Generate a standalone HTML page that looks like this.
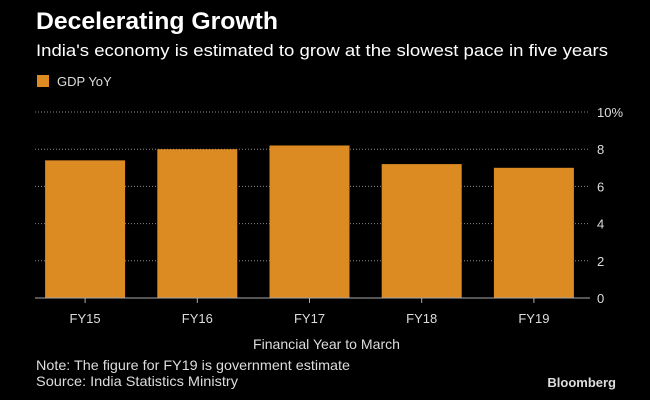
<!DOCTYPE html>
<html><head><meta charset="utf-8"><style>
body{margin:0;background:#000;width:650px;height:400px;overflow:hidden;font-family:"Liberation Sans",sans-serif;color:#fff}
</style></head><body>
<svg width="650" height="400" style="display:block">
<text x="36" y="29" font-size="24" font-weight="bold" fill="#fff" textLength="242" lengthAdjust="spacingAndGlyphs">Decelerating Growth</text>
<text x="36" y="56" font-size="17" fill="#fff" textLength="572" lengthAdjust="spacingAndGlyphs">India's economy is estimated to grow at the slowest pace in five years</text>
<rect x="37" y="75" width="12" height="12" fill="#dc8a22"/>
<text x="57" y="86" font-size="13" fill="#ddd">GDP YoY</text>
<g id="grid"></g><g id="bars"></g><g id="xaxis"></g>
<text x="253" y="349" font-size="14" fill="#ddd" textLength="147" lengthAdjust="spacingAndGlyphs">Financial Year to March</text>
<text x="36" y="370" font-size="14" fill="#ddd" textLength="314" lengthAdjust="spacingAndGlyphs">Note: The figure for FY19 is government estimate</text>
<text x="36" y="386" font-size="14" fill="#ddd" textLength="202" lengthAdjust="spacingAndGlyphs">Source: India Statistics Ministry</text>
<text x="616" y="387" font-size="13" font-weight="bold" fill="#ddd" text-anchor="end">Bloomberg</text>
</svg>
<script>
const categories=["FY15","FY16","FY17","FY18","FY19"];
const values=[7.4,8.0,8.2,7.2,7.0];
const ticks=[0,2,4,6,8,10];
const tickLabels=["0","2","4","6","8","10%"];
const NS="http://www.w3.org/2000/svg";
const x0=29,x1=590,gx0=35,y0=298,yTop=112,ymax=10;
const y=v=>y0-(y0-yTop)*v/ymax;
const step=(x1-x0)/categories.length;
const xc=i=>x0+step*(i+0.5);
function mk(t,a,p){const e=document.createElementNS(NS,t);for(const k in a)e.setAttribute(k,a[k]);p.appendChild(e);return e;}
const g=document.getElementById('grid'),b=document.getElementById('bars'),xa=document.getElementById('xaxis');
ticks.forEach((t,i)=>{
 if(t>0){const l=mk('line',{x1:gx0,x2:x1,y1:y(t),y2:y(t),stroke:'#888','stroke-width':1,'stroke-dasharray':'1,2'},g);
 
 }
 const tx=mk('text',{x:597,y:y(t)+5,'font-size':13,fill:'#ddd'},g);tx.textContent=tickLabels[i];
 
 
});
categories.forEach((c,i)=>{
 const r=mk('rect',{x:xc(i)-40,y:y(values[i]),width:80,height:y0-y(values[i]),fill:'#dc8a22'},b);
 
 
 const tk=mk('line',{x1:xc(i),x2:xc(i),y1:y0,y2:y0+5,stroke:'#aaa'},xa);
 
 
 const t=mk('text',{x:xc(i),y:y0+25,'font-size':13,fill:'#ddd','text-anchor':'middle'},xa);t.textContent=c;
 
 
});
const base=mk('line',{x1:gx0,x2:x1,y1:y0,y2:y0,stroke:'#aaa','stroke-width':1},xa);


</script>
</body></html>
